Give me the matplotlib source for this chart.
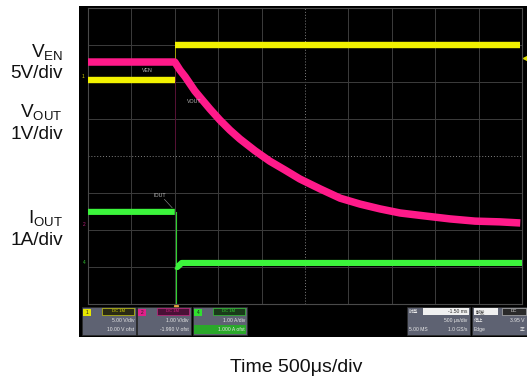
"""
示波器截图复刻：使能关断时 VEN / VOUT / IOUT 波形
"""

import matplotlib
matplotlib.use('Agg')
import matplotlib.pyplot as plt
from matplotlib.patches import Rectangle

plt.rcParams['font.family'] = ['Liberation Sans', 'Noto Sans CJK SC', 'DejaVu Sans']
plt.rcParams['mathtext.fontset'] = 'custom'
plt.rcParams['mathtext.rm'] = 'Liberation Sans'
plt.rcParams['mathtext.it'] = 'Liberation Sans'

nan = float('nan')

# ---- 波形数据（时间 ms，纵轴为屏幕格数 0..8），nan 处断开粗线 ----
ven_t = [-1.0, 0.0, nan, 0.0, 3.98]
ven_div = [6.05, 6.05, nan, 7.0, 7.0]

vout_t = [-1.0, 0.0, 0.06, 0.12, 0.175, 0.23, 0.29, 0.405, 0.52, 0.635,
          0.75, 0.925, 1.095, 1.27, 1.44, 1.675, 1.905, 2.135, 2.365,
          2.595, 2.88, 3.17, 3.46, 3.745, 3.98]
vout_div = [6.54, 6.54, 6.32, 6.14, 5.95, 5.76, 5.59, 5.27, 4.97, 4.70,
            4.46, 4.14, 3.86, 3.62, 3.38, 3.11, 2.86, 2.70, 2.57,
            2.46, 2.38, 2.30, 2.24, 2.22, 2.19]

iout_t = [-1.0, 0.0, nan, 0.01, 0.03, 0.08, 4.0]
iout_div = [2.49, 2.49, nan, 1.02, 1.0, 1.11, 1.11]
iout_spike_t = [0.01, 0.01]
iout_spike_div = [2.49, 0.0]

t_min, t_max, t_step = -1.0, 4.0, 0.5
n_ydiv = 8

# 左侧标签 / 底部时基
left_labels = [(r'$\mathrm{V}_{\mathrm{EN}}$', 57), ('5V/div', 78),
               (r'$\mathrm{V}_{\mathrm{OUT}}$', 117), ('1V/div', 139),
               (r'$\mathrm{I}_{\mathrm{OUT}}$', 223), ('1A/div', 245)]
time_label = 'Time 500\u03bcs/div'

W, H = 527, 381
fig = plt.figure(figsize=(W / 100, H / 100), dpi=100)
fig.patch.set_facecolor('white')

# 背景层（像素坐标）
bg = fig.add_axes([0, 0, 1, 1])
bg.set_xlim(0, W)
bg.set_ylim(H, 0)
bg.axis('off')
bg.add_patch(Rectangle((79, 6), 448, 331, facecolor='black', edgecolor='none'))

for txt, yb in left_labels:
    bg.text(63, yb, txt, ha='right', va='baseline', fontsize=13.7, color='#111111')
bg.text(296, 372, time_label, ha='center', va='baseline', fontsize=14, color='#111111')

# 波形区
gx0, gx1, gy0, gy1 = 88, 522, 8, 304
ax = fig.add_axes([gx0 / W, 1 - gy1 / H, (gx1 - gx0) / W, (gy1 - gy0) / H])
ax.set_facecolor('black')
ax.set_xlim(t_min, t_max)
ax.set_ylim(0, n_ydiv)
ax.set_xticks([])
ax.set_yticks([])
for s in ax.spines.values():
    s.set_color('#4a4a4a')
    s.set_linewidth(0.8)

# 网格
t = t_min + t_step
while t < t_max - 1e-6:
    if abs(t - 1.5) < 1e-6:
        ax.axvline(t, color='#808080', lw=0.7, ls=(0, (1, 2)))
    else:
        ax.axvline(t, color='#3c3c3c', lw=0.7)
    t += t_step
for k in range(1, n_ydiv):
    if k == 4:
        ax.axhline(k, color='#808080', lw=0.7, ls=(0, (1, 2)))
    else:
        ax.axhline(k, color='#3c3c3c', lw=0.7)

# 波形
ax.plot([0, 0], [6.05, 7.0], color='#b0b000', lw=0.6, zorder=3)
ax.plot([0, 0], [6.54, 4.2], color='#5a0a34', lw=0.6, zorder=3)
ax.plot(iout_spike_t, iout_spike_div, color='#30d030', lw=0.8, zorder=3)
ax.plot(ven_t, ven_div, color='#f2f200', lw=4.6, solid_capstyle='butt', zorder=4)
ax.plot(vout_t, vout_div, color='#ff1a8a', lw=5.4, solid_capstyle='butt',
        solid_joinstyle='round', zorder=4)
ax.plot(iout_t, iout_div, color='#3cf53c', lw=4.4, solid_capstyle='butt', zorder=4)

# 波形标注
ax.text(-0.32, 6.32, 'VEN', fontsize=3.8, color='#bbbbbb', ha='center', va='center', zorder=5)
ax.text(0.23, 5.46, 'VOUT', fontsize=3.8, color='#bbbbbb', ha='center', va='center', zorder=5)
ax.text(-0.17, 2.92, 'IOUT', fontsize=3.8, color='#bbbbbb', ha='center', va='center', zorder=5)
ax.plot([-0.12, -0.03], [2.83, 2.6], color='#999999', lw=0.4, zorder=5)

# 通道标记、触发标记
bg.text(83, 77, '1', fontsize=3.5, color='#d0d000', ha='center', va='center')
bg.text(84, 224, '2', fontsize=3.5, color='#c02080', ha='center', va='center')
bg.text(84, 262, '4', fontsize=3.5, color='#30c030', ha='center', va='center')
bg.plot([524.5], [58], marker='<', ms=3, color='#e0e000', zorder=6)
bg.plot([175.5], [304], marker='^', ms=3, color='#e8a040', zorder=6)
bg.add_patch(Rectangle((494, 12), 26, 9, facecolor='#0a1478', edgecolor='none', zorder=6))
bg.text(507, 16.5, 'MANUAL', fontsize=3, color='#4060ff', ha='center', va='center', zorder=7)

# 底部通道信息面板
panel_bg = '#5e6272'
channels = [
    (82, '1', '#e6e600', '#2a2a14', 'DC 1M', '5.00 V/div', '10.00 V ofst', None),
    (137, '2', '#e0208a', '#4a1036', 'DC 1M', '1.00 V/div', '-1.990 V ofst', None),
    (193, '4', '#30e030', '#1a3a1a', 'DC 1M', '1.00 A/div', '1.000 A ofst', '#2aa82a'),
]
for x0, num, col, hdr, htxt, row1, row2, hl in channels:
    w = 54
    bg.add_patch(Rectangle((x0, 307), w, 28, facecolor=panel_bg, edgecolor='#2a2a2a', lw=0.5))
    bg.add_patch(Rectangle((x0 + 1, 309), 8, 7, facecolor=col, edgecolor='none'))
    bg.text(x0 + 5, 312.5, num, fontsize=3.5, color='#202020', ha='center', va='center')
    bg.add_patch(Rectangle((x0 + 20, 308), w - 22, 7, facecolor=hdr, edgecolor=col, lw=0.4))
    bg.text(x0 + 36, 311.5, htxt, fontsize=3, color=col, ha='center', va='center')
    bg.text(x0 + w - 2, 320.5, row1, fontsize=3.6, color='#e8e8e8', ha='right', va='center')
    if hl:
        bg.add_patch(Rectangle((x0 + 1, 325), w - 2, 9, facecolor=hl, edgecolor='none'))
    bg.text(x0 + w - 2, 329.5, row2, fontsize=3.6, color='#e8e8e8', ha='right', va='center')

# 时基面板
bg.add_patch(Rectangle((407, 307), 63, 28, facecolor=panel_bg, edgecolor='#2a2a2a', lw=0.5))
bg.add_patch(Rectangle((423, 308), 46, 7, facecolor='#f0f0f0', edgecolor='none'))
bg.text(409, 311.5, '时基', fontsize=3.4, color='#e8e8e8', ha='left', va='center')
bg.text(467, 311.5, '-1.50 ms', fontsize=3.6, color='#303030', ha='right', va='center')
bg.text(467, 320.5, '500 \u03bcs/div', fontsize=3.6, color='#e8e8e8', ha='right', va='center')
bg.text(409, 329.5, '5.00 MS', fontsize=3.6, color='#e8e8e8', ha='left', va='center')
bg.text(467, 329.5, '1.0 GS/s', fontsize=3.6, color='#e8e8e8', ha='right', va='center')

# 触发面板
bg.add_patch(Rectangle((472, 307), 55, 28, facecolor=panel_bg, edgecolor='#2a2a2a', lw=0.5))
bg.add_patch(Rectangle((474, 308), 24, 7, facecolor='#f0f0f0', edgecolor='none'))
bg.add_patch(Rectangle((502, 308), 24, 7, facecolor='#2a2a2a', edgecolor='#cccccc', lw=0.4))
bg.text(476, 311.5, '触发', fontsize=3.4, color='#303030', ha='left', va='center')
bg.text(514, 311.5, 'DC', fontsize=3.2, color='#e8e8e8', ha='center', va='center')
bg.text(474, 320.5, '停止', fontsize=3.4, color='#e8e8e8', ha='left', va='center')
bg.text(525, 320.5, '3.95 V', fontsize=3.6, color='#e8e8e8', ha='right', va='center')
bg.text(474, 329.5, 'Edge', fontsize=3.6, color='#e8e8e8', ha='left', va='center')
bg.text(525, 329.5, '正', fontsize=3.4, color='#e8e8e8', ha='right', va='center')

fig.savefig('out.png', dpi=100, facecolor='white')
plt.close(fig)
